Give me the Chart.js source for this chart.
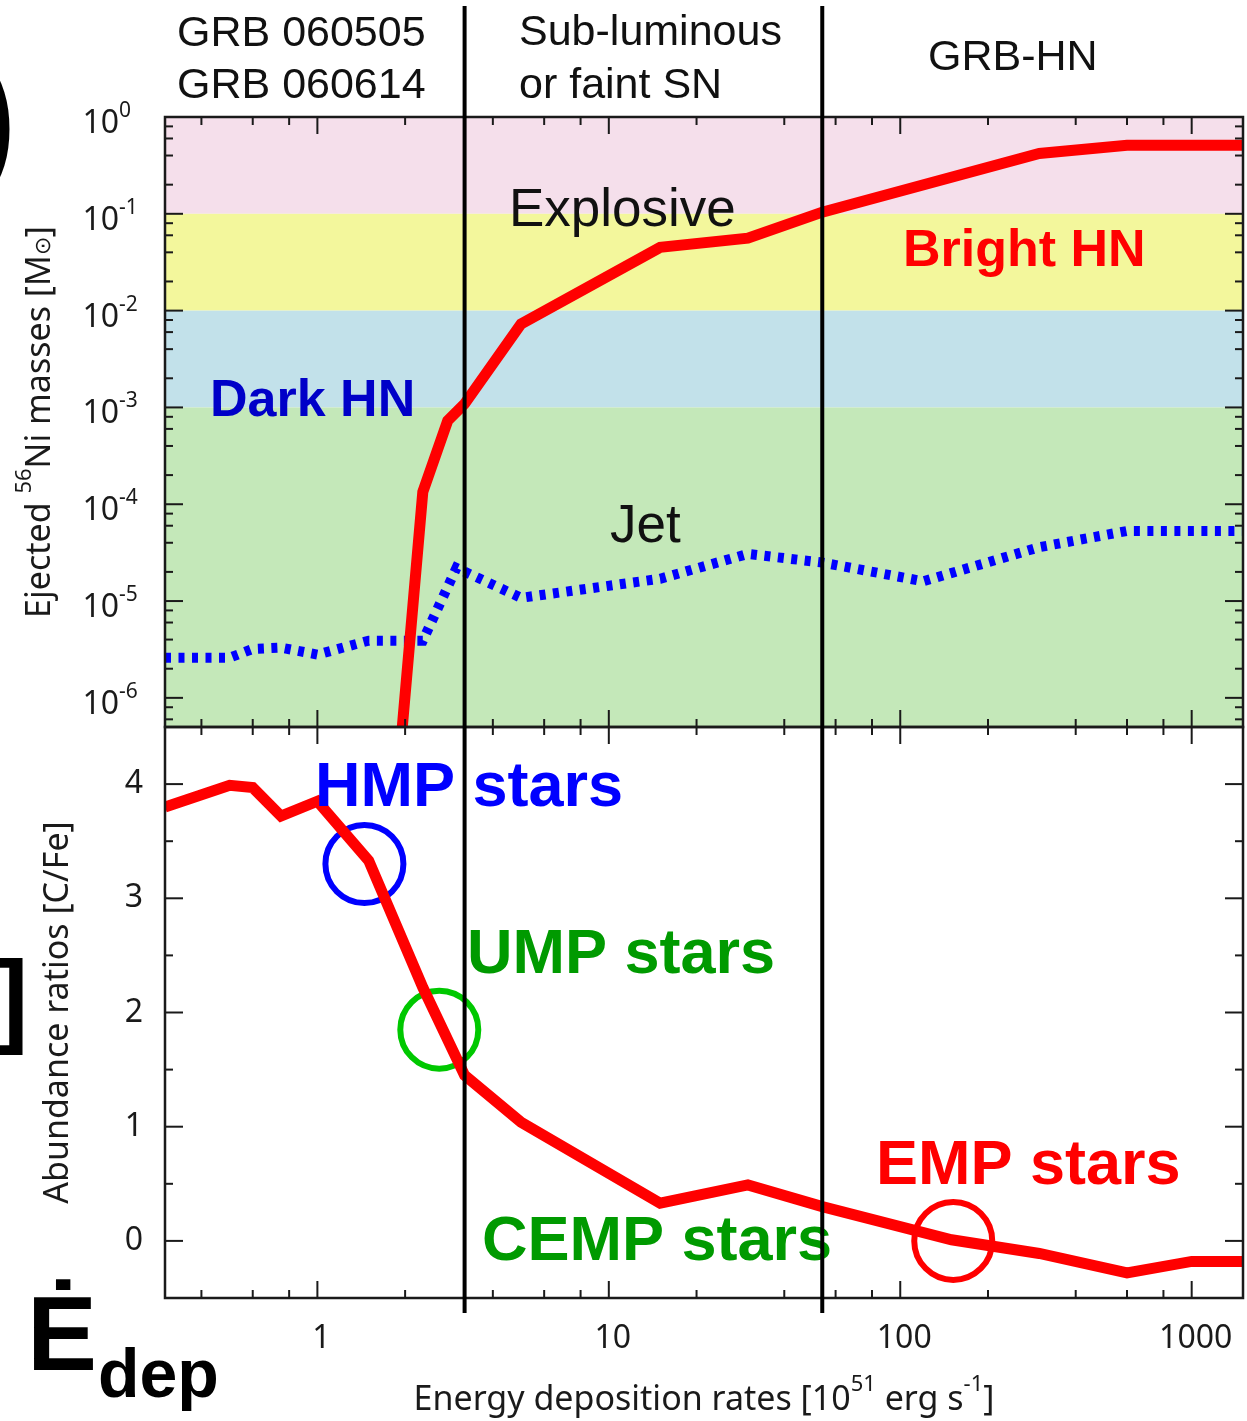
<!DOCTYPE html>
<html>
<head>
<meta charset="utf-8">
<script src="https://cdn.jsdelivr.net/npm/chart.js@4.4.1/dist/chart.umd.min.js"></script>
<style>
  html, body { margin: 0; padding: 0; background: #fff; }
  canvas { display: block; }
</style>
</head>
<body>
<canvas id="sneChart" width="1247" height="1421"></canvas>
<script>
// Energy deposition rates [10^51 erg/s] and results
const edepNi = [1.95, 2.3, 2.8, 3.2, 5, 15, 30, 54, 300, 600, 1000, 1500];
const niExplosive = [4.5e-7, 1.34e-4, 7.3e-4, 1.09e-3, 7.3e-3, 0.045, 0.056, 0.104, 0.42, 0.51, 0.51, 0.51];

const edepJet = [0.3, 0.5, 0.6, 0.75, 1.0, 1.5, 2.3, 3.0, 5, 15, 30, 54, 120, 300, 600, 1000, 1500];
const niJet = [2.6e-6, 2.6e-6, 3.2e-6, 3.3e-6, 2.8e-6, 3.9e-6, 3.9e-6, 2.2e-5, 1.08e-5, 1.7e-5, 3.07e-5, 2.5e-5, 1.6e-5, 3.6e-5, 5.3e-5, 5.3e-5, 5.3e-5];

const edepCFe = [0.3, 0.5, 0.6, 0.75, 1.0, 1.5, 2.3, 3.2, 5, 15, 30, 54, 150, 300, 600, 1000, 1500];
const cfe = [3.80, 3.99, 3.97, 3.72, 3.85, 3.33, 2.22, 1.45, 1.04, 0.33, 0.49, 0.30, 0.01, -0.11, -0.28, -0.18, -0.18];

// circled star groups
const starGroups = ["HMP stars", "UMP stars", "EMP stars"];
const starEdep = [1.45, 2.62, 152];
const starCFe = [3.30, 1.85, 0.0];

// regime boundaries
const regimeEdges = [3.2, 54];

// Ni mass bands: Explosive (pink), yellow, blue, green
const bandLimits = [1, 0.1, 0.01, 0.001];
const bandColors = ["#f5dfeb", "#f3f79c", "#c2e1ea", "#c4e8b9"];

// ticks
const xMajorTicks = [1, 10, 100, 1000];
const xMinorTicks = [0.4, 0.6, 0.8, 2, 4, 6, 8, 20, 40, 60, 80, 200, 400, 600, 800];
const niExponents = [0, -1, -2, -3, -4, -5, -6];
const cfeTicks = [0, 1, 2, 3, 4];
const cfeMinorTicks = [0.5, 1.5, 2.5, 3.5];

const toPoints = (xs, ys) => xs.map((x, i) => ({ x: x, y: ys[i] }));

const labelFont = '"Noto Sans", "Open Sans", sans-serif';
const arial = '"Liberation Sans", Arial, sans-serif';

// draw a run of [text, sizePx, rise] pieces starting at x (left aligned)
function richWidth(ctx, parts, family) {
  let w = 0;
  parts.forEach((p) => {
    ctx.font = p[1] + "px " + family;
    w += ctx.measureText(p[0]).width;
  });
  return w;
}
function drawRich(ctx, parts, family, x, y) {
  parts.forEach((p) => {
    ctx.font = p[1] + "px " + family;
    ctx.fillText(p[0], x, y - p[2]);
    x += ctx.measureText(p[0]).width;
  });
}

const clipPanels = {
  id: "clipPanels",
  beforeDatasetDraw(chart, args) {
    const xs = args.meta.xScale;
    const ys = args.meta.yScale;
    const ctx = chart.ctx;
    ctx.save();
    ctx.beginPath();
    ctx.rect(xs.left, ys.top, xs.right - xs.left, ys.bottom - ys.top);
    ctx.clip();
  },
  afterDatasetDraw(chart) {
    chart.ctx.restore();
  },
};

const decor = {
  id: "decor",
  beforeDatasetsDraw(chart) {
    const ctx = chart.ctx;
    const x = chart.scales.x;
    const yt = chart.scales.yTop;
    const edges = bandLimits.concat([yt.min]);
    ctx.save();
    for (let i = 0; i < bandColors.length; i++) {
      const top = yt.getPixelForValue(edges[i]);
      const bottom = yt.getPixelForValue(edges[i + 1]);
      ctx.fillStyle = bandColors[i];
      ctx.fillRect(x.left, top, x.right - x.left, bottom - top);
    }
    ctx.restore();
  },
  afterDatasetsDraw(chart) {
    const ctx = chart.ctx;
    const x = chart.scales.x;
    const yt = chart.scales.yTop;
    const yb = chart.scales.yBot;
    ctx.save();

    // annotations
    ctx.textAlign = "left";
    ctx.textBaseline = "alphabetic";
    ctx.fillStyle = "#111";
    ctx.font = "43px " + arial;
    ctx.fillText("GRB 060505", 177, 46);
    ctx.fillText("GRB 060614", 177, 98);
    ctx.fillText("Sub-luminous", 519, 45);
    ctx.fillText("or faint SN", 519, 98);
    ctx.fillText("GRB-HN", 928, 70);
    ctx.font = "53px " + arial;
    ctx.fillText("Explosive", 509, 226);
    ctx.fillText("Jet", 610, 542);

    ctx.font = "bold 52px " + arial;
    ctx.fillStyle = "#ff0000";
    ctx.fillText("Bright HN", 903, 266);
    ctx.fillStyle = "#0000c8";
    ctx.fillText("Dark HN", 210, 416);

    ctx.font = "bold 63px " + arial;
    ctx.fillStyle = "#0000ff";
    ctx.fillText(starGroups[0], 315, 806);
    ctx.fillStyle = "#009a00";
    ctx.fillText(starGroups[1], 467, 973);
    ctx.fillText("CEMP stars", 482, 1260);
    ctx.fillStyle = "#ff0000";
    ctx.fillText(starGroups[2], 876, 1184);

    // pieces of the neighbouring panel
    ctx.fillStyle = "#000";
    ctx.font = "bold 150px " + arial;
    ctx.fillText(")", -33, 168);
    ctx.font = "bold 103px " + arial;
    ctx.fillText("]", -6, 1033);
    ctx.font = "bold 105px " + arial;
    ctx.fillText("\u0116", 27, 1370);
    ctx.font = "bold 68px " + arial;
    ctx.fillText("dep", 98, 1397);

    // frames
    ctx.strokeStyle = "#1a1a1a";
    ctx.lineWidth = 2.5;
    ctx.strokeRect(x.left, yt.top, x.right - x.left, yt.bottom - yt.top);
    ctx.strokeRect(x.left, yb.top, x.right - x.left, yb.bottom - yb.top);

    // tick marks, all pointing inwards
    ctx.lineWidth = 2;
    const seg = (x0, y0, x1, y1) => {
      ctx.beginPath();
      ctx.moveTo(x0, y0);
      ctx.lineTo(x1, y1);
      ctx.stroke();
    };
    const xTick = (v, len) => {
      const px = x.getPixelForValue(v);
      seg(px, yt.top, px, yt.top + len);
      seg(px, yt.bottom, px, yt.bottom - len);
      seg(px, yb.top, px, yb.top + len);
      seg(px, yb.bottom, px, yb.bottom - len);
    };
    xMajorTicks.forEach((v) => xTick(v, 17));
    xMinorTicks.forEach((v) => xTick(v, 8));
    const yTick = (scale, v, len) => {
      const py = scale.getPixelForValue(v);
      seg(x.left, py, x.left + len, py);
      seg(x.right, py, x.right - len, py);
    };
    niExponents.forEach((e) => {
      yTick(yt, Math.pow(10, e), 18);
      [2, 4, 6, 8].forEach((m) => {
        const v = m * Math.pow(10, e - 1);
        if (v > yt.min && v < yt.max) yTick(yt, v, 8);
      });
    });
    cfeTicks.forEach((v) => yTick(yb, v, 18));
    cfeMinorTicks.forEach((v) => yTick(yb, v, 8));

    // x tick labels
    ctx.fillStyle = "#1a1a1a";
    ctx.font = "32px " + labelFont;
    ctx.textAlign = "center";
    xMajorTicks.forEach((v) => {
      ctx.fillText(String(v), x.getPixelForValue(v) + 4, 1348);
    });

    // Ni mass tick labels 10^n
    niExponents.forEach((e) => {
      const py = yt.getPixelForValue(Math.pow(10, e));
      ctx.font = "32px " + labelFont;
      ctx.textAlign = "right";
      ctx.fillText("10", 119, py + 16);
      ctx.font = "21px " + labelFont;
      ctx.textAlign = "left";
      ctx.fillText(e === 0 ? "0" : "-" + Math.abs(e), 119, py);
    });

    // axis titles
    ctx.textAlign = "left";
    const xTitle = [
      ["Energy deposition rates [10", 34, 0],
      ["51", 22, 19],
      [" erg s", 34, 0],
      ["-1", 22, 19],
      ["]", 34, 0],
    ];
    const xw = richWidth(ctx, xTitle, labelFont);
    drawRich(ctx, xTitle, labelFont, (x.left + x.right) / 2 - xw / 2, 1410);

    const niTitle = [
      ["Ejected ", 34, 0],
      ["56", 22, 19],
      ["Ni masses [M", 34, 0],
      ["\u2299", 22, 0],
      ["]", 34, 0],
    ];
    const nw = richWidth(ctx, niTitle, labelFont);
    ctx.save();
    ctx.translate(50, (yt.top + yt.bottom) / 2);
    ctx.rotate(-Math.PI / 2);
    drawRich(ctx, niTitle, labelFont, -nw / 2, 0);
    ctx.restore();

    const cTitle = [["Abundance ratios [C/Fe]", 34, 0]];
    const cw = richWidth(ctx, cTitle, labelFont);
    ctx.save();
    ctx.translate(68, (yb.top + yb.bottom) / 2);
    ctx.rotate(-Math.PI / 2);
    drawRich(ctx, cTitle, labelFont, -cw / 2, 0);
    ctx.restore();

    // regime boundaries
    ctx.strokeStyle = "#000";
    ctx.lineWidth = 4;
    regimeEdges.forEach((v) => {
      const px = x.getPixelForValue(v);
      seg(px, 6, px, yb.bottom + 15);
    });
    ctx.restore();
  },
};

new Chart(document.getElementById("sneChart"), {
  type: "line",
  data: {
    datasets: [
      {
        label: "Explosive",
        data: toPoints(edepNi, niExplosive),
        yAxisID: "yTop",
        borderColor: "#ff0000",
        borderWidth: 11,
        borderJoinStyle: "miter",
        pointRadius: 0,
        tension: 0,
      },
      {
        label: "Jet",
        data: toPoints(edepJet, niJet),
        yAxisID: "yTop",
        borderColor: "#0000ff",
        borderWidth: 10,
        borderDash: [6, 7.5],
        borderCapStyle: "butt",
        pointRadius: 0,
        tension: 0,
      },
      {
        label: "[C/Fe]",
        data: toPoints(edepCFe, cfe),
        yAxisID: "yBot",
        borderColor: "#ff0000",
        borderWidth: 11,
        borderJoinStyle: "miter",
        pointRadius: 0,
        tension: 0,
      },
      {
        label: "Star groups",
        data: toPoints(starEdep, starCFe),
        yAxisID: "yBot",
        showLine: false,
        pointRadius: 39,
        pointBorderWidth: 6,
        pointBackgroundColor: "rgba(0,0,0,0)",
        pointBorderColor: ["#0000ff", "#00c800", "#ff0000"],
      },
    ],
  },
  options: {
    responsive: false,
    animation: false,
    devicePixelRatio: 1,
    layout: { autoPadding: false, padding: { left: 0, right: 4, top: 117, bottom: 0 } },
    plugins: { legend: { display: false }, tooltip: { enabled: false } },
    scales: {
      x: {
        type: "logarithmic",
        min: 0.3,
        max: 1500,
        grid: { display: false, drawTicks: false },
        border: { display: false },
        ticks: { display: false },
        afterFit: (axis) => {
          axis.height = 123;
        },
      },
      yTop: {
        type: "logarithmic",
        position: "left",
        stack: "panels",
        stackWeight: 610,
        weight: 2,
        min: 5e-7,
        max: 1,
        grid: { display: false, drawTicks: false },
        border: { display: false },
        ticks: { display: false },
        afterFit: (axis) => {
          axis.width = 165;
        },
      },
      yBot: {
        type: "linear",
        position: "left",
        stack: "panels",
        stackWeight: 571,
        weight: 1,
        min: -0.5,
        max: 4.5,
        grid: { display: false, drawTicks: false },
        border: { display: false },
        afterBuildTicks: (axis) => {
          axis.ticks = cfeTicks.map((v) => ({ value: v }));
        },
        afterFit: (axis) => {
          axis.width = 165;
        },
        ticks: {
          padding: 22,
          color: "#1a1a1a",
          font: { family: labelFont, size: 32 },
        },
      },
    },
  },
  plugins: [clipPanels, decor],
});
</script>
</body>
</html>
